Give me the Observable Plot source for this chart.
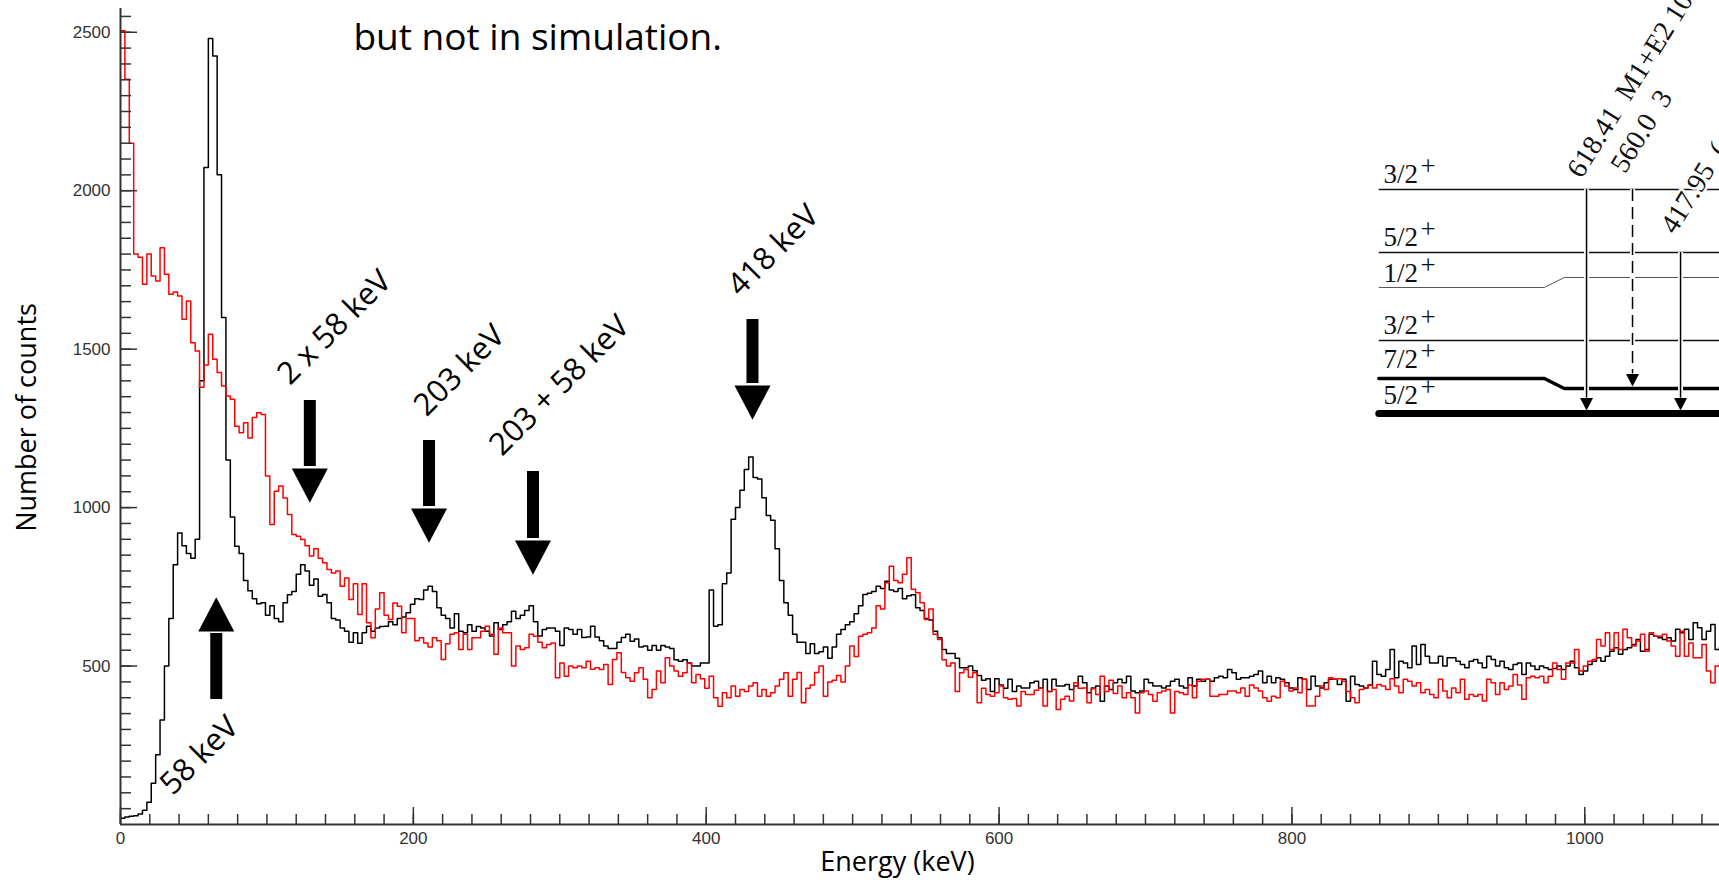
<!DOCTYPE html>
<html><head><meta charset="utf-8">
<script src="https://cdn.jsdelivr.net/npm/d3@7"></script>
<script src="https://cdn.jsdelivr.net/npm/@observablehq/plot@0.6"></script>
<style>
html,body{margin:0;padding:0;background:#fff;}
#chart{width:1719px;height:880px;overflow:hidden;}
svg text{paint-order:stroke;}
</style></head><body><div id="chart"></div>
<script>
// ---- histogram data: 3 keV bins starting at 0 keV ----
const binWidth = 3;
const experiment = [
20,24,26,28,33,45,70,130,220,330,
500,650,820,920,880,855,840,900,1400,2073,
2480,2425,2050,1600,1150,970,878,855,770,738,
712,697,700,660,690,650,640,700,725,735,
790,820,800,755,775,720,726,700,650,645,
620,610,575,605,572,605,626,610,620,625,
626,640,630,650,655,668,695,712,710,740,
752,735,684,660,650,620,665,610,605,630,
610,625,620,610,595,637,615,630,640,673,
650,660,675,690,640,595,615,620,620,610,
565,620,615,600,615,590,592,626,592,580,
563,555,555,575,590,600,578,585,560,563,
550,565,550,565,560,555,520,515,520,510,
500,500,510,510,740,626,630,760,794,963,
1000,1055,1120,1160,1095,1090,1031,975,960,870,
770,700,660,600,575,575,540,570,540,545,
560,525,560,600,615,630,640,665,690,726,
730,735,752,745,768,740,735,745,712,722,
725,684,675,650,645,610,589,552,540,540,
525,495,495,500,485,470,455,460,420,460,
440,430,458,420,437,431,431,447,452,431,
458,420,458,437,437,442,426,437,468,447,
416,431,437,389,437,426,447,458,447,468,
421,416,421,458,447,437,437,431,437,452,
458,437,431,463,437,458,452,458,452,463,
468,463,489,479,458,463,463,468,473,484,
447,468,447,463,458,447,431,426,463,458,
426,468,437,431,447,458,458,442,458,389,
468,442,437,431,440,515,473,468,489,552,
463,515,510,495,563,505,568,531,510,510,
531,500,526,526,515,505,495,515,521,510,
495,531,521,500,515,495,489,505,510,473,
510,500,489,500,495,489,492,500,489,500,
515,495,473,484,505,515,526,515,531,547,
558,537,552,558,568,584,547,552,600,594,
589,584,589,579,616,605,616,584,637,621,
584,610,631,552,560
];
const simulation = [
2505,2352,2150,1800,1790,1705,1800,1731,1715,1820,
1736,1673,1680,1668,1594,1652,1520,1494,1380,1450,
1547,1468,1426,1384,1352,1342,1257,1236,1268,1220,
1284,1299,1294,1100,947,1052,1068,1030,978,915,
910,899,880,847,870,840,826,805,794,800,
752,778,710,760,663,760,637,589,680,731,
660,647,699,689,605,650,650,580,589,573,
560,589,580,521,570,600,605,552,600,552,
589,589,610,626,600,537,620,605,605,500,
563,552,558,600,594,575,558,568,573,463,
510,468,500,495,500,495,515,490,495,489,
505,442,521,542,480,463,452,479,495,458,
400,426,484,447,526,500,484,468,479,510,
447,473,460,430,468,400,373,416,400,437,
405,426,420,437,447,405,426,405,416,437,
458,479,405,458,480,384,430,440,480,500,
405,450,455,470,450,500,563,530,594,600,
605,620,690,680,763,815,770,763,790,842,
742,731,700,647,680,600,584,520,500,510,
420,479,489,465,479,384,430,410,405,416,
437,400,395,398,374,420,410,410,424,431,
374,420,426,363,395,405,390,447,430,431,
384,428,410,468,420,455,413,437,400,416,
400,352,416,421,410,389,416,421,426,352,
420,416,410,440,400,452,458,458,405,405,
410,410,421,421,416,431,405,440,431,421,
400,389,405,400,452,437,421,431,416,458,
374,374,405,437,426,463,458,460,452,420,
400,384,426,431,440,431,442,437,426,460,
437,416,458,452,437,447,416,426,410,400,
458,421,400,431,416,458,395,410,405,410,
390,458,447,410,447,426,437,473,440,395,
463,468,463,468,447,468,510,489,458,510,
510,552,484,500,515,521,584,563,605,552,
605,552,616,589,563,579,600,547,605,594,
594,600,579,563,531,610,531,573,526,526,
568,484,447,500,510
];

// ---- axes ----
const xTickLabels = [0, 200, 400, 600, 800, 1000];
const yTickLabels = [500, 1000, 1500, 2000, 2500];
const xMinorStep = 20, yMinorStep = 50;
const xMax = 1092, yMax = 2575;

// ---- peak annotations (keV, counts) ----
const peakLabels = ["58 keV", "2 x 58 keV", "203 keV", "203 + 58 keV", "418 keV"];
const peakLabelE = [54.0, 146.1, 231.5, 299.8, 445.9];
const peakLabelC = [217.7, 1568.4, 1432.7, 1385.3, 1811.4];
const arrowE = [65.4, 129.3, 210.7, 281.7, 431.6];
const arrowTailC = [394.4, 1338.0, 1211.8, 1114.0, 1593.6];
const arrowBaseC = [609.0, 1123.4, 997.2, 896.2, 1385.3];
const arrowUp = [true, false, false, false, false];

// ---- level scheme inset ----
const levelSpin = ["3/2", "5/2", "1/2", "3/2", "7/2", "5/2"];
const levelLeftC = [2003.9, 1805.1, 1694.6, 1527.4, 1407.4, 1297.0];
const levelRightC = [2003.9, 1805.1, 1726.2, 1527.4, 1375.9, 1297.0];
const levelWidth = [1.5, 1.5, 1, 1.5, 3.5, 7];
const levelColor = ["#111", "#111", "#555", "#111", "#000", "#000"];
const levelLabelC = [2022.8, 1825.2, 1710.4, 1549.4, 1439.0, 1328.5];
const levelStartE = 859.3, levelLabelE = 862.6;
const kinkE = [972.4, 986.0];
const transE = [1001.2, 1032.6, 1065.4];
const transFromC = [2003.9, 2003.9, 1805.1];
const transHeadC = [1345.6, 1421.3, 1345.6];
const transDashed = [false, true, false];
const transText = ["618.41\u00a0\u00a0M1+E2 10", "560.0\u00a0\u00a03", "417.95\u00a0\u00a0("];
const transTextE = [997.8, 1027.4, 1061.6];
const transTextC = [2035.4, 2051.1, 1859.3];

// ---- slide text ----
const slideText = "but not in simulation.";

// ---- build ----
const W = 1719, H = 880, mL = 120, mR = 0, mT = 8, mB = 56;
const kx = (W - mL - mR) / xMax, ky = (H - mT - mB) / yMax; // px per unit (for pixel-sized styling)
const toSteps = vals => vals.map((v, i) => ({e: i * binWidth, c: v}))
  .concat([{e: vals.length * binWidth, c: vals[vals.length - 1]}]);
const xMinor = d3.range(0, xMax, xMinorStep);
const yMinor = d3.range(yMinorStep, yMax, yMinorStep);

const headDown = {draw(ctx, size) {const r = Math.sqrt(size / Math.PI); ctx.moveTo(-r, 0); ctx.lineTo(r, 0); ctx.lineTo(0, 1.9 * r); ctx.closePath();}};
const headUp = {draw(ctx, size) {const r = Math.sqrt(size / Math.PI); ctx.moveTo(-r, 0); ctx.lineTo(r, 0); ctx.lineTo(0, -1.9 * r); ctx.closePath();}};

const arrows = peakLabels.map((l, i) => ({e: arrowE[i], tail: arrowTailC[i], base: arrowBaseC[i], up: arrowUp[i]}));
const peakText = peakLabels.map((l, i) => ({t: l, e: peakLabelE[i], c: peakLabelC[i]}));
const levels = levelSpin.map((s, i) => ({s, i, L: levelLeftC[i], R: levelRightC[i], w: levelWidth[i], col: levelColor[i], lab: levelLabelC[i]}));
const trans = transE.map((e, i) => ({e, from: transFromC[i], head: transHeadC[i], dashed: transDashed[i], t: transText[i], te: transTextE[i], tc: transTextC[i]}));

const serif = "Liberation Serif, Times New Roman, serif";
const sans = "Open Sans, sans-serif";
const tickFont = "Liberation Sans, Arial, sans-serif";

const levelMarks = levels.map(l => Plot.line(
  [{x: levelStartE, y: l.L}, {x: kinkE[0], y: l.L}, {x: kinkE[1], y: l.R}, {x: xMax, y: l.R}],
  {x: "x", y: "y", stroke: l.col, strokeWidth: l.w, strokeLinecap: l.w > 3 ? "round" : "butt", strokeLinejoin: "miter"}));

const chart = Plot.plot({
  width: W, height: H,
  marginLeft: mL, marginRight: mR, marginTop: mT, marginBottom: mB,
  x: {domain: [0, xMax], axis: null},
  y: {domain: [0, yMax], axis: null},
  marks: [
    // spectra
    Plot.line(toSteps(experiment), {x: "e", y: "c", curve: "step-after", stroke: "#000", strokeWidth: 1.5, clip: true}),
    Plot.line(toSteps(simulation), {x: "e", y: "c", curve: "step-after", stroke: "#ff0000", strokeWidth: 1.5, clip: true}),
    // axes
    Plot.ruleY([0], {x1: 0, x2: xMax, stroke: "#333", strokeWidth: 2}),
    Plot.ruleX([0], {y1: 0, y2: yMax, stroke: "#333", strokeWidth: 2}),
    Plot.ruleX(xMinor, {x: d => d, y1: 0, y2: 10 / ky, stroke: "#333", strokeWidth: 1.5}),
    Plot.ruleX(xTickLabels, {x: d => d, y1: 0, y2: 17 / ky, stroke: "#333", strokeWidth: 1.5}),
    Plot.ruleY(yMinor, {y: d => d, x1: 0, x2: 11 / kx, stroke: "#333", strokeWidth: 1.5}),
    Plot.ruleY(yTickLabels, {y: d => d, x1: 0, x2: 17 / kx, stroke: "#333", strokeWidth: 1.5}),
    Plot.text(xTickLabels, {x: d => d, y: 0, dy: 14, text: d => String(d), fontFamily: tickFont, fontSize: 17, fill: "#333", lineAnchor: "middle"}),
    Plot.text(yTickLabels, {x: 0, y: d => d, dx: -10, text: d => String(d), textAnchor: "end", fontFamily: tickFont, fontSize: 17, fill: "#333", lineAnchor: "middle"}),
    Plot.text(["Energy (keV)"], {x: 530.6, y: -148.3, text: d => d, fontFamily: sans, fontSize: 27, fill: "#000", lineAnchor: "bottom"}),
    Plot.text(["Number of counts"], {x: -63.5, y: 1284.4, text: d => d, rotate: -90, fontFamily: sans, fontSize: 27, fill: "#000", lineAnchor: "middle"}),
    // peak arrows
    Plot.ruleX(arrows, {x: "e", y1: "tail", y2: d => d.base + (d.up ? -2 : 2) / ky, stroke: "#000", strokeWidth: 12}),
    Plot.dot(arrows.filter(d => !d.up), {x: "e", y: "base", symbol: headDown, r: 18, fill: "#000", stroke: null}),
    Plot.dot(arrows.filter(d => d.up), {x: "e", y: "base", symbol: headUp, r: 18, fill: "#000", stroke: null}),
    Plot.text(peakText, {x: "e", y: "c", text: "t", rotate: -45, fontFamily: sans, fontSize: 31, fill: "#000", lineAnchor: "middle"}),
    // level scheme
    ...levelMarks,
    Plot.ruleX(trans, {x: "e", y1: "from", y2: "head", stroke: "#fff", strokeWidth: 5}),
    Plot.ruleX(trans.filter(d => !d.dashed), {x: "e", y1: "from", y2: "head", stroke: "#000", strokeWidth: 1.5}),
    Plot.ruleX(trans.filter(d => d.dashed), {x: "e", y1: "from", y2: "head", stroke: "#000", strokeWidth: 1.5, strokeDasharray: "12,6"}),
    Plot.dot(trans, {x: "e", y: "head", symbol: headDown, r: 6.5, fill: "#000", stroke: null}),
    Plot.text(levels, {x: levelLabelE, y: "lab", text: "s", textAnchor: "start", lineAnchor: "bottom", fontFamily: serif, fontSize: 27, fill: "#111"}),
    Plot.text(levels, {x: levelLabelE, y: "lab", text: () => "+", dx: 37, dy: -8, textAnchor: "start", lineAnchor: "bottom", fontFamily: serif, fontSize: 27, fill: "#111"}),
    Plot.text(trans, {x: "te", y: "tc", text: "t", rotate: -58, textAnchor: "start", lineAnchor: "bottom", fontFamily: serif, fontSize: 28, fill: "#111", stroke: "#fff", strokeWidth: 5}),
    // slide text
    Plot.text([slideText], {x: 159.1, y: 2442.5, text: d => d, textAnchor: "start", lineAnchor: "bottom", fontFamily: sans, fontSize: 37, fill: "#000"})
  ]
});
document.getElementById("chart").appendChild(chart);
</script>
</body></html>
